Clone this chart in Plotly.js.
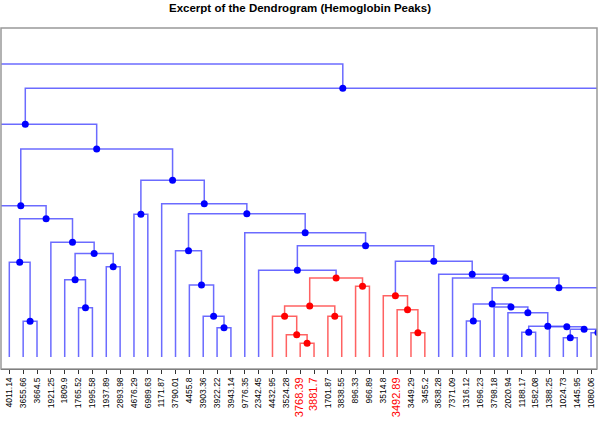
<!DOCTYPE html>
<html>
<head>
<meta charset="utf-8">
<script src="https://cdn.plot.ly/plotly-3.0.1.min.js"></script>
<style>html,body{margin:0;padding:0;background:#fff;}#chart{width:600px;height:422px;}</style>
</head>
<body>
<div id="chart"></div>
<script>
// Leaf labels of the visible excerpt (leaf slots 1..43, left to right)
const leafLabels = ["4011.14","3655.66","3664.5","1921.25","1809.9","1765.52","1995.58","1937.89","2893.98","4676.29",
  "6989.63","1171.87","3790.01","4455.8","3903.36","3922.22","3943.14","9776.35","2342.45","4432.95",
  "3524.28","3768.39","3881.7","1701.87","3838.55","896.33","966.89","3514.8","3492.89","3449.29",
  "3455.2","3638.28","7371.09","1316.12","1696.23","3798.18","2020.94","1188.17","1582.08","1388.25",
  "1024.73","1445.95","1080.06"];
// Highlighted peaks
const highlightLabels = ["3768.39","3881.7","3492.89"];

// Merge structure (leaf slots "Ln", earlier merges "Nk"); slots outside 1..43 lie outside the excerpt
const mergeA = ["L2","L1","L6","L5","L8","N4","L4","N2","L0","L10",
  "L16","L15","L14","L13","L22","L21","L20","L24","N17","L26",
  "N19","L19","L30","L29","L28","L34","L38","L41","L43","N28",
  "L40","N27","L37","L36","N26","L45","N35","L33","L32","N25",
  "N22","L18","N14","L12","N10","N9","L-3","N47","L-40"];
const mergeB = ["L3","N1","L7","N3","L9","N5","N6","N7","N8","L11",
  "L17","N11","N12","N13","L23","N15","N16","L25","N18","L27",
  "N20","N21","L31","N23","N24","L35","L39","L42","L44","N29",
  "N30","N31","N32","N33","N34","L46","N36","N37","N38","N39",
  "N40","N41","N42","N43","N44","N45","N46","L48","N48"];
const mergeHeight = [3.57,9.47,4.93,7.73,9.03,10.35,11.47,13.83,15.13,14.27,
  2.93,4.07,7.2,10.63,1.37,2.23,4.07,4.07,5.1,7.07,
  7.9,8.67,2.43,4.73,6.13,3.6,2.47,1.93,2.43,2.77,
  3.03,3.07,4.43,5.0,5.3,5.5,6.93,7.9,8.27,9.57,
  11.13,12.43,14.33,15.33,17.67,20.8,23.27,26.87,29.3];
// Clusters cut out in red (merge numbers)
const redClusters = ["N21","N25"];

// ---- build geometry through the tree ----
const nodes = {};
function ref(r){
  if (r[0] === "L") { const s = parseInt(r.slice(1)); return {x: s, h: 0}; }
  return nodes[r];
}
for (let i = 0; i < mergeA.length; i++) {
  const id = "N" + (i + 1);
  const a = ref(mergeA[i]), b = ref(mergeB[i]);
  nodes[id] = {id, a, b, x: (a.x + b.x) / 2, h: mergeHeight[i], red: false, children: [mergeA[i], mergeB[i]]};
}
function markRed(id){
  const n = nodes[id]; if (!n) return;
  n.red = true;
  n.children.forEach(c => { if (c[0] === "N") markRed(c); });
}
redClusters.forEach(markRed);

const seg = {blue: {x: [], y: []}, red: {x: [], y: []}};
const pts = {blue: {x: [], y: []}, red: {x: [], y: []}};
Object.values(nodes).forEach(n => {
  const c = n.red ? "red" : "blue";
  const s = seg[c];
  // left vertical, horizontal, right vertical
  s.x.push(n.a.x, n.a.x, n.b.x, n.b.x, null);
  s.y.push(n.a.h, n.h, n.h, n.b.h, null);
  pts[c].x.push(n.x); pts[c].y.push(n.h);
});

const tickText = leafLabels.map(l => highlightLabels.includes(l)
  ? '<span style="color:#ff0000;font-size:11px">' + l + '</span>' : l);
const tickVals = leafLabels.map((l, i) => i + 1);

const traces = [
  {type: "scatter", mode: "lines", x: seg.blue.x, y: seg.blue.y,
   line: {color: "rgba(70,70,255,0.8)", width: 1.5}, hoverinfo: "skip"},
  {type: "scatter", mode: "lines", x: seg.red.x, y: seg.red.y,
   line: {color: "rgba(255,70,70,0.85)", width: 1.5}, hoverinfo: "skip"},
  {type: "scatter", mode: "markers", x: pts.blue.x, y: pts.blue.y,
   marker: {color: "#0000ff", size: 7}},
  {type: "scatter", mode: "markers", x: pts.red.x, y: pts.red.y,
   marker: {color: "#ff0000", size: 7}}
];

const layout = {
  width: 600, height: 422,
  margin: {l: 1, r: 3, t: 28, b: 53},
  paper_bgcolor: "#fff", plot_bgcolor: "#fff",
  showlegend: false,
  title: {text: "<b>Excerpt of the Dendrogram (Hemoglobin Peaks)</b>",
    font: {family: "Liberation Sans, Arial, sans-serif", size: 11.5, color: "#000"},
    x: 0.5, xanchor: "center", y: 0.981, yanchor: "middle", yref: "container"},
  xaxis: {range: [0.40, 43.43], tickmode: "array", tickvals: tickVals, ticktext: tickText,
    tickangle: -90, ticks: "outside", ticklen: 4, tickcolor: "#333", tickwidth: 1,
    showline: true, linecolor: "#333", linewidth: 1, showgrid: false, zeroline: false,
    tickfont: {family: "Liberation Sans, Arial, sans-serif", size: 8.5, color: "#000"}},
  yaxis: {range: [-1.2, 32.9], visible: false, showgrid: false, zeroline: false},
  shapes: [{type: "rect", xref: "paper", yref: "paper", x0: 0, x1: 1, y0: 0, y1: 1,
    line: {color: "#999", width: 1.5}}]
};
Plotly.newPlot("chart", traces, layout, {staticPlot: true, displayModeBar: false});
</script>
</body>
</html>
